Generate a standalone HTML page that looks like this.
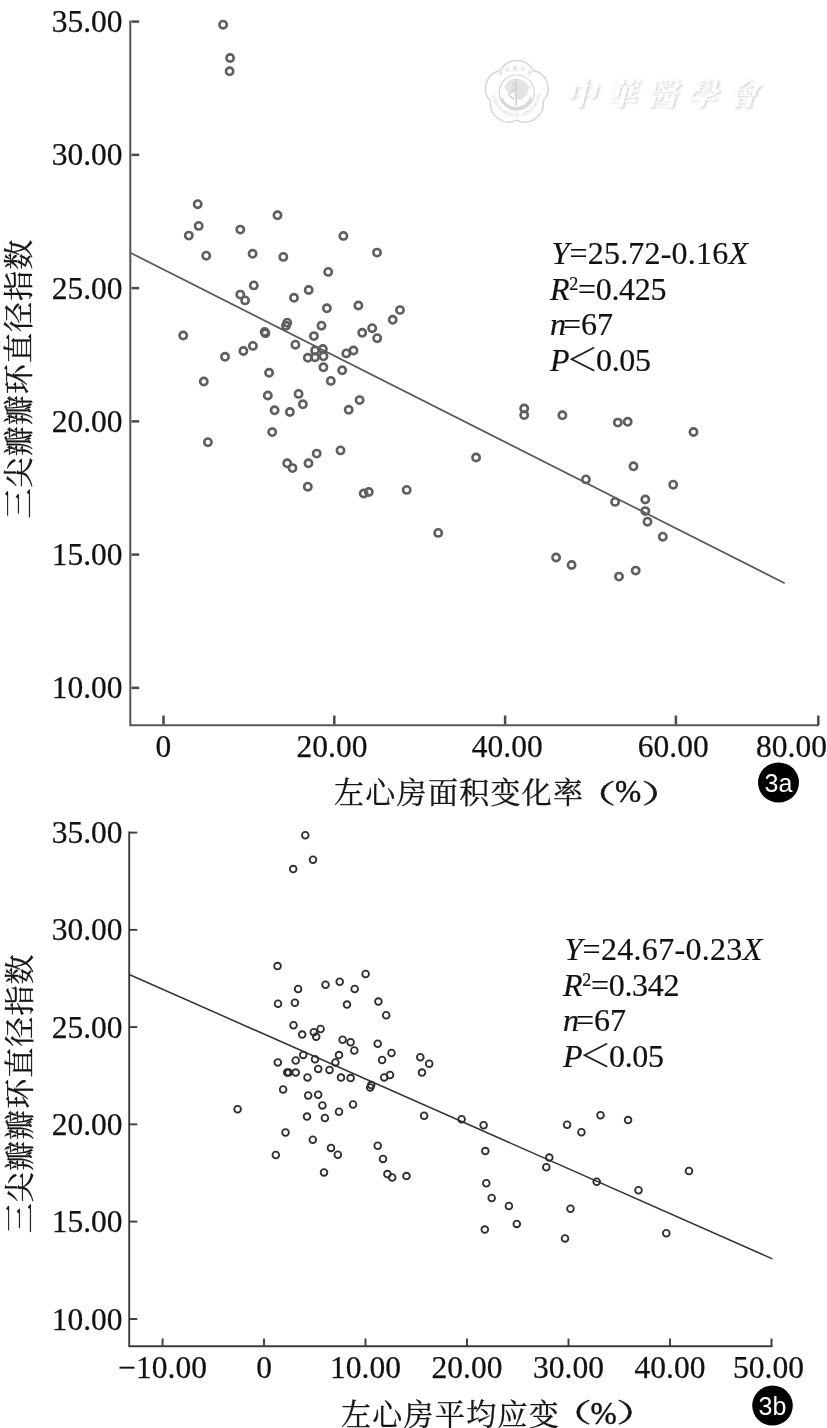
<!DOCTYPE html>
<html lang="zh"><head><meta charset="utf-8"><title>Figure 3</title>
<style>
html,body{margin:0;padding:0;background:#fff;}
body{width:827px;height:1428px;overflow:hidden;}
svg{display:block;}
.n{font-family:"Liberation Serif","Noto Serif CJK SC",serif;font-size:31.5px;fill:#111;stroke:#111;stroke-width:0.25;}
.c{font-family:"Noto Serif CJK SC","Liberation Serif",serif;font-size:30px;fill:#151515;stroke:#151515;stroke-width:0.3;}
.e{font-family:"Liberation Serif","Noto Serif CJK SC",serif;font-size:32px;fill:#111;stroke:#111;stroke-width:0.2;}
.pr{font-size:26px;stroke-width:0.4;}
.pc{stroke-width:0.45;}
.b{font-family:"Liberation Sans",sans-serif;font-size:25px;fill:#fff;}
.ax{stroke:#555;stroke-width:2;fill:none;}
.tk{stroke:#4a4a4a;stroke-width:2.5;}
.ax2{stroke:#3c3c3c;stroke-width:1.9;}
.ln{stroke:#5a5a5a;stroke-width:1.75;fill:none;}
.ln2{stroke:#333;stroke-width:1.5;fill:none;}
.p1 circle{fill:none;stroke:#5e5e5e;stroke-width:2.6;}
.p2 circle{fill:none;stroke:#2e2e2e;stroke-width:1.8;}
.wm{font-family:"Noto Serif CJK TC","Noto Serif CJK SC",serif;font-size:31px;font-weight:900;font-style:italic;letter-spacing:9.5px;}
</style></head><body>
<svg width="827" height="1428" viewBox="0 0 827 1428">
<rect width="827" height="1428" fill="#fff"/>

<defs><filter id="bl" x="-10%" y="-10%" width="120%" height="120%"><feGaussianBlur stdDeviation="0.8"/></filter>
<filter id="b1" x="0" y="0" width="100%" height="100%" filterUnits="userSpaceOnUse"><feGaussianBlur stdDeviation="0.55"/></filter><filter id="b2" x="0" y="0" width="100%" height="100%" filterUnits="userSpaceOnUse"><feGaussianBlur stdDeviation="0.3"/></filter>
<path id="arcT" d="M494.2 92.0A22 22 0 0 1 538.2 92.0"/>
<path id="arcB" d="M491.7 92.0A24.5 24.5 0 0 0 540.7 92.0"/></defs>
<g id="logo" fill="none" stroke-linejoin="round">
<g filter="url(#b1)" stroke="#d6d6d6">
<path d="M532.4 69.8A18.3 18.3 0 0 0 500.0 69.8A18.3 18.3 0 0 0 490.0 100.5A18.3 18.3 0 0 0 516.2 119.5A18.3 18.3 0 0 0 542.4 100.5A18.3 18.3 0 0 0 532.4 69.8Z" stroke-width="1.5" transform="translate(0.6,0.6)"/>
<circle cx="516.2" cy="92.0" r="17.5" stroke-width="1.2" transform="translate(0.5,0.5)"/>
<path d="M504.20000000000005 86.0q6 -9 14 -7q9 2 11 9q-2 10 -10 12q-5 -2 -6 -7q-7 1 -9 -7z" fill="#e4e4e4" stroke="none"/>
<path d="M516.2 79.0V106.0M512.2 84.0q8 3 0 7q-7 4 2 8" stroke-width="1.4" stroke="#cfcfcf"/>
<path d="M501.20000000000005 98.0a16 16 0 0 0 30 0" stroke-width="2.4"/>
</g>
<text font-family="'Noto Sans CJK SC',sans-serif" font-size="5" font-weight="700" fill="#dcdcdc" stroke="none" letter-spacing="2.2"><textPath href="#arcT" startOffset="50%" text-anchor="middle">中华医学会</textPath></text>
<text font-family="'Liberation Sans',sans-serif" font-size="4.2" font-weight="700" fill="#dcdcdc" stroke="none" letter-spacing="0.1"><textPath href="#arcB" startOffset="50%" text-anchor="middle">CHINESE MEDICAL ASSOCIATION</textPath></text>
</g>
<text class="wm" x="565" y="104.5" fill="#d0d0d0" filter="url(#bl)" transform="translate(1.4,1.5)">中華醫學會</text>
<text class="wm" x="565" y="104.5" fill="#ffffff">中華醫學會</text>

<path class="ax" d="M130.3 20.4V725.2H819"/>
<path class="ax tk" d="M131.5 21.6H139.2"/>
<text class="n" x="122.6" y="32.1" text-anchor="end">35.00</text>
<path class="ax tk" d="M131.5 154.85H139.2"/>
<text class="n" x="122.6" y="165.3" text-anchor="end">30.00</text>
<path class="ax tk" d="M131.5 288.1H139.2"/>
<text class="n" x="122.6" y="298.6" text-anchor="end">25.00</text>
<path class="ax tk" d="M131.5 421.35H139.2"/>
<text class="n" x="122.6" y="431.9" text-anchor="end">20.00</text>
<path class="ax tk" d="M131.5 554.6H139.2"/>
<text class="n" x="122.6" y="565.1" text-anchor="end">15.00</text>
<path class="ax tk" d="M131.5 687.85H139.2"/>
<text class="n" x="122.6" y="698.4" text-anchor="end">10.00</text>
<path class="ax tk" d="M163.5 724.5V715.5"/>
<text class="n" x="163.4" y="756.6" text-anchor="middle">0</text>
<path class="ax tk" d="M334.3 724.5V715.5"/>
<text class="n" x="332" y="756.6" text-anchor="middle">20.00</text>
<path class="ax tk" d="M505.1 724.5V715.5"/>
<text class="n" x="507.3" y="756.6" text-anchor="middle">40.00</text>
<path class="ax tk" d="M675.9 724.5V715.5"/>
<text class="n" x="673.2" y="756.6" text-anchor="middle">60.00</text>
<path class="ax tk" d="M818.3 725V715.5"/>
<text class="n" x="791.5" y="756.6" text-anchor="middle">80.00</text>
<path class="ln" filter="url(#b2)" d="M130.3 252.7L784.7 583.3"/>
<g class="p1" filter="url(#b1)">
<circle cx="223.1" cy="24.7" r="3.65"/>
<circle cx="230.1" cy="58.0" r="3.65"/>
<circle cx="229.6" cy="71.3" r="3.65"/>
<circle cx="197.7" cy="204.2" r="3.65"/>
<circle cx="198.7" cy="225.9" r="3.65"/>
<circle cx="188.8" cy="235.6" r="3.65"/>
<circle cx="206.2" cy="255.7" r="3.65"/>
<circle cx="240.3" cy="229.6" r="3.65"/>
<circle cx="277.5" cy="215.3" r="3.65"/>
<circle cx="252.6" cy="253.8" r="3.65"/>
<circle cx="283.3" cy="256.9" r="3.65"/>
<circle cx="328.2" cy="271.9" r="3.65"/>
<circle cx="253.8" cy="285.4" r="3.65"/>
<circle cx="240.3" cy="294.6" r="3.65"/>
<circle cx="245.1" cy="300.4" r="3.65"/>
<circle cx="308.7" cy="290.0" r="3.65"/>
<circle cx="294.0" cy="297.8" r="3.65"/>
<circle cx="326.9" cy="308.3" r="3.65"/>
<circle cx="287.2" cy="322.7" r="3.65"/>
<circle cx="286.0" cy="325.8" r="3.65"/>
<circle cx="321.5" cy="325.7" r="3.65"/>
<circle cx="264.7" cy="331.9" r="3.65"/>
<circle cx="265.4" cy="333.3" r="3.65"/>
<circle cx="313.9" cy="336.1" r="3.65"/>
<circle cx="183.2" cy="335.5" r="3.65"/>
<circle cx="252.9" cy="345.9" r="3.65"/>
<circle cx="295.4" cy="344.7" r="3.65"/>
<circle cx="243.4" cy="351.0" r="3.65"/>
<circle cx="225.0" cy="356.8" r="3.65"/>
<circle cx="315.1" cy="350.5" r="3.65"/>
<circle cx="322.8" cy="349.0" r="3.65"/>
<circle cx="307.8" cy="357.8" r="3.65"/>
<circle cx="315.0" cy="357.3" r="3.65"/>
<circle cx="323.5" cy="356.3" r="3.65"/>
<circle cx="323.4" cy="367.3" r="3.65"/>
<circle cx="269.1" cy="372.8" r="3.65"/>
<circle cx="203.8" cy="381.5" r="3.65"/>
<circle cx="343.4" cy="235.9" r="3.65"/>
<circle cx="377.0" cy="252.6" r="3.65"/>
<circle cx="358.4" cy="305.5" r="3.65"/>
<circle cx="400.0" cy="310.1" r="3.65"/>
<circle cx="392.7" cy="319.8" r="3.65"/>
<circle cx="372.2" cy="328.2" r="3.65"/>
<circle cx="362.2" cy="332.8" r="3.65"/>
<circle cx="377.2" cy="338.2" r="3.65"/>
<circle cx="353.5" cy="350.5" r="3.65"/>
<circle cx="346.3" cy="353.4" r="3.65"/>
<circle cx="342.2" cy="370.3" r="3.65"/>
<circle cx="330.8" cy="380.9" r="3.65"/>
<circle cx="267.8" cy="395.5" r="3.65"/>
<circle cx="298.6" cy="393.9" r="3.65"/>
<circle cx="302.9" cy="404.3" r="3.65"/>
<circle cx="274.6" cy="410.3" r="3.65"/>
<circle cx="289.9" cy="412.0" r="3.65"/>
<circle cx="272.2" cy="432.1" r="3.65"/>
<circle cx="207.9" cy="442.2" r="3.65"/>
<circle cx="316.7" cy="453.6" r="3.65"/>
<circle cx="287.2" cy="463.3" r="3.65"/>
<circle cx="292.5" cy="468.1" r="3.65"/>
<circle cx="308.5" cy="463.3" r="3.65"/>
<circle cx="307.8" cy="486.7" r="3.65"/>
<circle cx="359.6" cy="400.1" r="3.65"/>
<circle cx="348.7" cy="409.8" r="3.65"/>
<circle cx="340.5" cy="450.4" r="3.65"/>
<circle cx="476.1" cy="457.5" r="3.65"/>
<circle cx="363.7" cy="493.5" r="3.65"/>
<circle cx="368.8" cy="492.0" r="3.65"/>
<circle cx="406.7" cy="489.9" r="3.65"/>
<circle cx="438.2" cy="532.9" r="3.65"/>
<circle cx="524.2" cy="408.5" r="3.65"/>
<circle cx="524.2" cy="415.1" r="3.65"/>
<circle cx="562.4" cy="415.3" r="3.65"/>
<circle cx="617.8" cy="422.6" r="3.65"/>
<circle cx="627.7" cy="421.8" r="3.65"/>
<circle cx="693.5" cy="432.0" r="3.65"/>
<circle cx="633.5" cy="466.3" r="3.65"/>
<circle cx="585.9" cy="479.4" r="3.65"/>
<circle cx="673.2" cy="484.7" r="3.65"/>
<circle cx="645.3" cy="499.5" r="3.65"/>
<circle cx="615.1" cy="501.9" r="3.65"/>
<circle cx="645.3" cy="511.1" r="3.65"/>
<circle cx="647.5" cy="521.7" r="3.65"/>
<circle cx="662.8" cy="536.7" r="3.65"/>
<circle cx="556.1" cy="557.5" r="3.65"/>
<circle cx="571.6" cy="565.0" r="3.65"/>
<circle cx="635.7" cy="570.6" r="3.65"/>
<circle cx="619.0" cy="576.6" r="3.65"/>
</g>
<text class="c" x="334" y="803" letter-spacing="1.3">左心房面积变化率</text>
<text class="c pr" transform="translate(572.3,802.7) scale(1.7,1)">（</text><text class="n pc" x="615" y="802">%</text><text class="c pr" transform="translate(641.3,802.7) scale(1.7,1)">）</text>
<text class="c" transform="translate(29,378.6) rotate(-90)" text-anchor="middle" letter-spacing="1.1">三尖瓣瓣环直径指数</text>
<ellipse cx="778.5" cy="782.5" rx="20.5" ry="20" fill="#000"/><text class="b" x="778.5" y="791.5" text-anchor="middle">3a</text>
<text class="e" x="551.5" y="264.2" letter-spacing="0.2"><tspan font-style="italic">Y</tspan>=25.72-0.16<tspan font-style="italic">X</tspan></text>
<text class="e" x="550" y="299.7" letter-spacing="-0.3"><tspan font-style="italic">R</tspan><tspan font-size="18" dy="-9.5">2</tspan><tspan dy="9.5">=0.425</tspan></text>
<text class="e" x="550" y="335.2"><tspan font-style="italic">n</tspan><tspan dx="-3">=67</tspan></text>
<text class="e" x="550" y="370.7" letter-spacing="-0.3"><tspan font-style="italic">P</tspan><tspan dx="-3">＜</tspan><tspan dx="-2">0.05</tspan></text>
<path class="ax ax2" d="M129.2 831.6V1346.2H772.5"/>
<path class="ax ax2" d="M129.2 832.6H137.3"/>
<text class="n" x="122.6" y="843.1" text-anchor="end">35.00</text>
<path class="ax ax2" d="M129.2 929.85H137.3"/>
<text class="n" x="122.6" y="940.4" text-anchor="end">30.00</text>
<path class="ax ax2" d="M129.2 1027.1H137.3"/>
<text class="n" x="122.6" y="1037.6" text-anchor="end">25.00</text>
<path class="ax ax2" d="M129.2 1124.35H137.3"/>
<text class="n" x="122.6" y="1134.8" text-anchor="end">20.00</text>
<path class="ax ax2" d="M129.2 1221.6H137.3"/>
<text class="n" x="122.6" y="1232.1" text-anchor="end">15.00</text>
<path class="ax ax2" d="M129.2 1319.0H137.3"/>
<text class="n" x="122.6" y="1329.5" text-anchor="end">10.00</text>
<path class="ax ax2" d="M162.6 1346.2V1338.5"/>
<text class="n" x="162.6" y="1377.8" text-anchor="middle">−10.00</text>
<path class="ax ax2" d="M264 1346.2V1338.5"/>
<text class="n" x="264" y="1377.8" text-anchor="middle">0</text>
<path class="ax ax2" d="M365.5 1346.2V1338.5"/>
<text class="n" x="365.5" y="1377.8" text-anchor="middle">10.00</text>
<path class="ax ax2" d="M467 1346.2V1338.5"/>
<text class="n" x="467" y="1377.8" text-anchor="middle">20.00</text>
<path class="ax ax2" d="M568.5 1346.2V1338.5"/>
<text class="n" x="568.5" y="1377.8" text-anchor="middle">30.00</text>
<path class="ax ax2" d="M670 1346.2V1338.5"/>
<text class="n" x="670" y="1377.8" text-anchor="middle">40.00</text>
<path class="ax ax2" d="M771.5 1346.2V1338.5"/>
<text class="n" x="768.5" y="1377.8" text-anchor="middle">50.00</text>
<path class="ln2" d="M129.2 974.5L772.5 1258.9"/>
<g class="p2" filter="url(#b2)">
<circle cx="305.3" cy="835.2" r="3.35"/>
<circle cx="313.0" cy="859.8" r="3.35"/>
<circle cx="293.2" cy="869.1" r="3.35"/>
<circle cx="277.5" cy="966.1" r="3.35"/>
<circle cx="325.5" cy="984.7" r="3.35"/>
<circle cx="298.1" cy="989.0" r="3.35"/>
<circle cx="278.0" cy="1003.7" r="3.35"/>
<circle cx="294.9" cy="1002.8" r="3.35"/>
<circle cx="339.7" cy="981.8" r="3.35"/>
<circle cx="365.6" cy="974.0" r="3.35"/>
<circle cx="354.7" cy="989.0" r="3.35"/>
<circle cx="347.0" cy="1004.6" r="3.35"/>
<circle cx="378.4" cy="1001.6" r="3.35"/>
<circle cx="386.2" cy="1015.2" r="3.35"/>
<circle cx="293.5" cy="1025.2" r="3.35"/>
<circle cx="302.2" cy="1034.6" r="3.35"/>
<circle cx="313.8" cy="1032.2" r="3.35"/>
<circle cx="320.6" cy="1029.0" r="3.35"/>
<circle cx="316.2" cy="1036.8" r="3.35"/>
<circle cx="303.2" cy="1054.9" r="3.35"/>
<circle cx="315.0" cy="1059.3" r="3.35"/>
<circle cx="295.7" cy="1060.5" r="3.35"/>
<circle cx="277.8" cy="1062.4" r="3.35"/>
<circle cx="318.2" cy="1068.9" r="3.35"/>
<circle cx="329.5" cy="1069.9" r="3.35"/>
<circle cx="287.2" cy="1072.6" r="3.35"/>
<circle cx="288.6" cy="1072.6" r="3.35"/>
<circle cx="295.7" cy="1072.6" r="3.35"/>
<circle cx="307.5" cy="1077.4" r="3.35"/>
<circle cx="283.1" cy="1089.5" r="3.35"/>
<circle cx="308.2" cy="1095.5" r="3.35"/>
<circle cx="318.2" cy="1094.8" r="3.35"/>
<circle cx="322.4" cy="1105.4" r="3.35"/>
<circle cx="237.6" cy="1109.3" r="3.35"/>
<circle cx="307.0" cy="1116.6" r="3.35"/>
<circle cx="324.9" cy="1118.0" r="3.35"/>
<circle cx="285.5" cy="1132.5" r="3.35"/>
<circle cx="312.8" cy="1139.7" r="3.35"/>
<circle cx="331.0" cy="1147.9" r="3.35"/>
<circle cx="275.8" cy="1155.0" r="3.35"/>
<circle cx="324.0" cy="1172.4" r="3.35"/>
<circle cx="342.6" cy="1039.7" r="3.35"/>
<circle cx="350.6" cy="1042.3" r="3.35"/>
<circle cx="354.3" cy="1050.5" r="3.35"/>
<circle cx="377.7" cy="1043.8" r="3.35"/>
<circle cx="391.5" cy="1053.0" r="3.35"/>
<circle cx="382.1" cy="1060.0" r="3.35"/>
<circle cx="339.0" cy="1055.1" r="3.35"/>
<circle cx="335.4" cy="1062.4" r="3.35"/>
<circle cx="341.0" cy="1077.6" r="3.35"/>
<circle cx="350.6" cy="1078.1" r="3.35"/>
<circle cx="384.2" cy="1077.4" r="3.35"/>
<circle cx="390.0" cy="1075.0" r="3.35"/>
<circle cx="420.3" cy="1057.3" r="3.35"/>
<circle cx="429.2" cy="1063.8" r="3.35"/>
<circle cx="422.0" cy="1072.6" r="3.35"/>
<circle cx="371.2" cy="1085.1" r="3.35"/>
<circle cx="370.2" cy="1087.5" r="3.35"/>
<circle cx="353.0" cy="1104.5" r="3.35"/>
<circle cx="339.0" cy="1111.7" r="3.35"/>
<circle cx="424.1" cy="1115.8" r="3.35"/>
<circle cx="461.6" cy="1119.2" r="3.35"/>
<circle cx="483.6" cy="1125.3" r="3.35"/>
<circle cx="337.8" cy="1154.8" r="3.35"/>
<circle cx="377.7" cy="1145.8" r="3.35"/>
<circle cx="383.0" cy="1158.9" r="3.35"/>
<circle cx="387.4" cy="1174.1" r="3.35"/>
<circle cx="392.2" cy="1177.5" r="3.35"/>
<circle cx="406.5" cy="1176.1" r="3.35"/>
<circle cx="485.3" cy="1151.1" r="3.35"/>
<circle cx="486.3" cy="1183.3" r="3.35"/>
<circle cx="491.7" cy="1198.0" r="3.35"/>
<circle cx="600.5" cy="1115.3" r="3.35"/>
<circle cx="628.1" cy="1120.1" r="3.35"/>
<circle cx="567.1" cy="1124.7" r="3.35"/>
<circle cx="581.4" cy="1132.2" r="3.35"/>
<circle cx="549.3" cy="1157.6" r="3.35"/>
<circle cx="546.3" cy="1167.3" r="3.35"/>
<circle cx="596.7" cy="1181.8" r="3.35"/>
<circle cx="638.5" cy="1190.3" r="3.35"/>
<circle cx="689.0" cy="1171.0" r="3.35"/>
<circle cx="508.9" cy="1206.0" r="3.35"/>
<circle cx="570.5" cy="1208.7" r="3.35"/>
<circle cx="516.8" cy="1223.9" r="3.35"/>
<circle cx="484.8" cy="1229.6" r="3.35"/>
<circle cx="565.0" cy="1238.4" r="3.35"/>
<circle cx="666.3" cy="1233.3" r="3.35"/>
</g>
<text class="c" x="341" y="1424.5" letter-spacing="1.3">左心房平均应变</text>
<text class="c pr" transform="translate(548,1422.2) scale(1.7,1)">（</text><text class="n pc" x="590.5" y="1423.5">%</text><text class="c pr" transform="translate(616.1,1422.2) scale(1.7,1)">）</text>
<text class="c" transform="translate(30.3,1093.3) rotate(-90)" text-anchor="middle" letter-spacing="1.1">三尖瓣瓣环直径指数</text>
<ellipse cx="772.5" cy="1405.6" rx="20.3" ry="20" fill="#000"/><text class="b" x="772.5" y="1414.6" text-anchor="middle">3b</text>
<text class="e" x="564.5" y="960.0" letter-spacing="0.3"><tspan font-style="italic">Y</tspan>=24.67-0.23<tspan font-style="italic">X</tspan></text>
<text class="e" x="563" y="995.7" letter-spacing="-0.3"><tspan font-style="italic">R</tspan><tspan font-size="18" dy="-9.5">2</tspan><tspan dy="9.5">=0.342</tspan></text>
<text class="e" x="563" y="1031.4"><tspan font-style="italic">n</tspan><tspan dx="-3">=67</tspan></text>
<text class="e" x="563" y="1067.1" letter-spacing="-0.3"><tspan font-style="italic">P</tspan><tspan dx="-3">＜</tspan><tspan dx="-2">0.05</tspan></text>
</svg></body></html>
